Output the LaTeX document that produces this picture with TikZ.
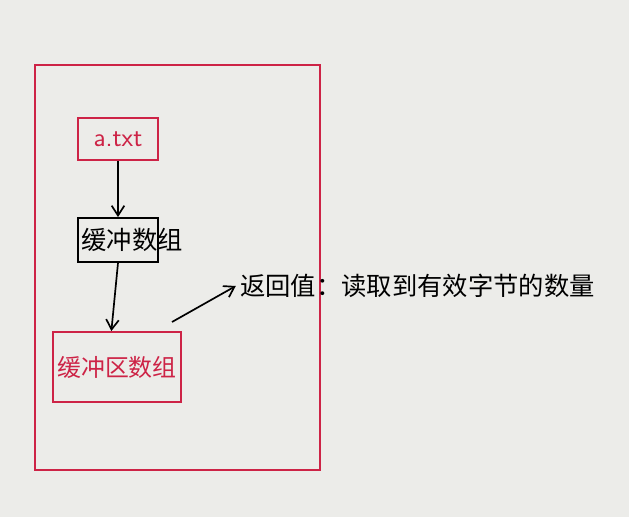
\documentclass[tikz,border=0pt]{standalone}
\usepackage{fontspec}
\newfontfamily\cjk{Noto Sans CJK SC}
\usetikzlibrary{arrows.meta}
\definecolor{paper}{RGB}{236,236,233}
\definecolor{penred}{RGB}{205,35,70}
\tikzset{
  redbox/.style={draw=penred, line width=1.4pt},
  blackbox/.style={draw=black, line width=1.3pt},
  flow/.style={-{Straight Barb[length=7pt,width=9pt]}, line width=1.2pt},
}

\begin{document}
\begin{tikzpicture}[x=0.025cm, y=-0.025cm]

% Paper and bounding box
\fill[paper] (0,0) rectangle (629,517);
\useasboundingbox (0,0) rectangle (629,517);

% Outer red frame
\draw[redbox] (35,65) rectangle (320,470);

% Source file
\node[redbox, minimum width=80*0.025cm, minimum height=42*0.025cm, text=penred,
  font=\sffamily\fontsize{19}{20}\selectfont] (file) at (118,139) {a.txt};

% Small buffer box, its text running past the right edge
\node[blackbox, minimum width=80*0.025cm, minimum height=44*0.025cm] (buf) at (118,240) {};
\node[anchor=west, inner sep=0pt, font=\cjk\fontsize{18}{20}\selectfont] (buftext)
  at ([xshift=3pt]buf.west) {缓冲数组};

% Buffer array
\node[redbox, minimum width=120*0.025cm, minimum height=70*0.025cm, text=penred,
  font=\cjk\fontsize{17}{20}\selectfont] (arr) at (117,367) {缓冲区数组};

% Return value note
\node[anchor=west, inner sep=0pt, font=\cjk\fontsize{18}{20}\selectfont] (ret)
  at (240,286) {返回值：读取到有效字节的数量};

% Arrows
\draw[flow] (file.south) -- (buf.north);
\draw[flow] (buf.south) -- ([xshift=-4pt]arr.north);
\coordinate (tail) at (172,322);
\draw[flow] (tail) -- ([xshift=-3pt]ret.west);

\end{tikzpicture}
\end{document}
